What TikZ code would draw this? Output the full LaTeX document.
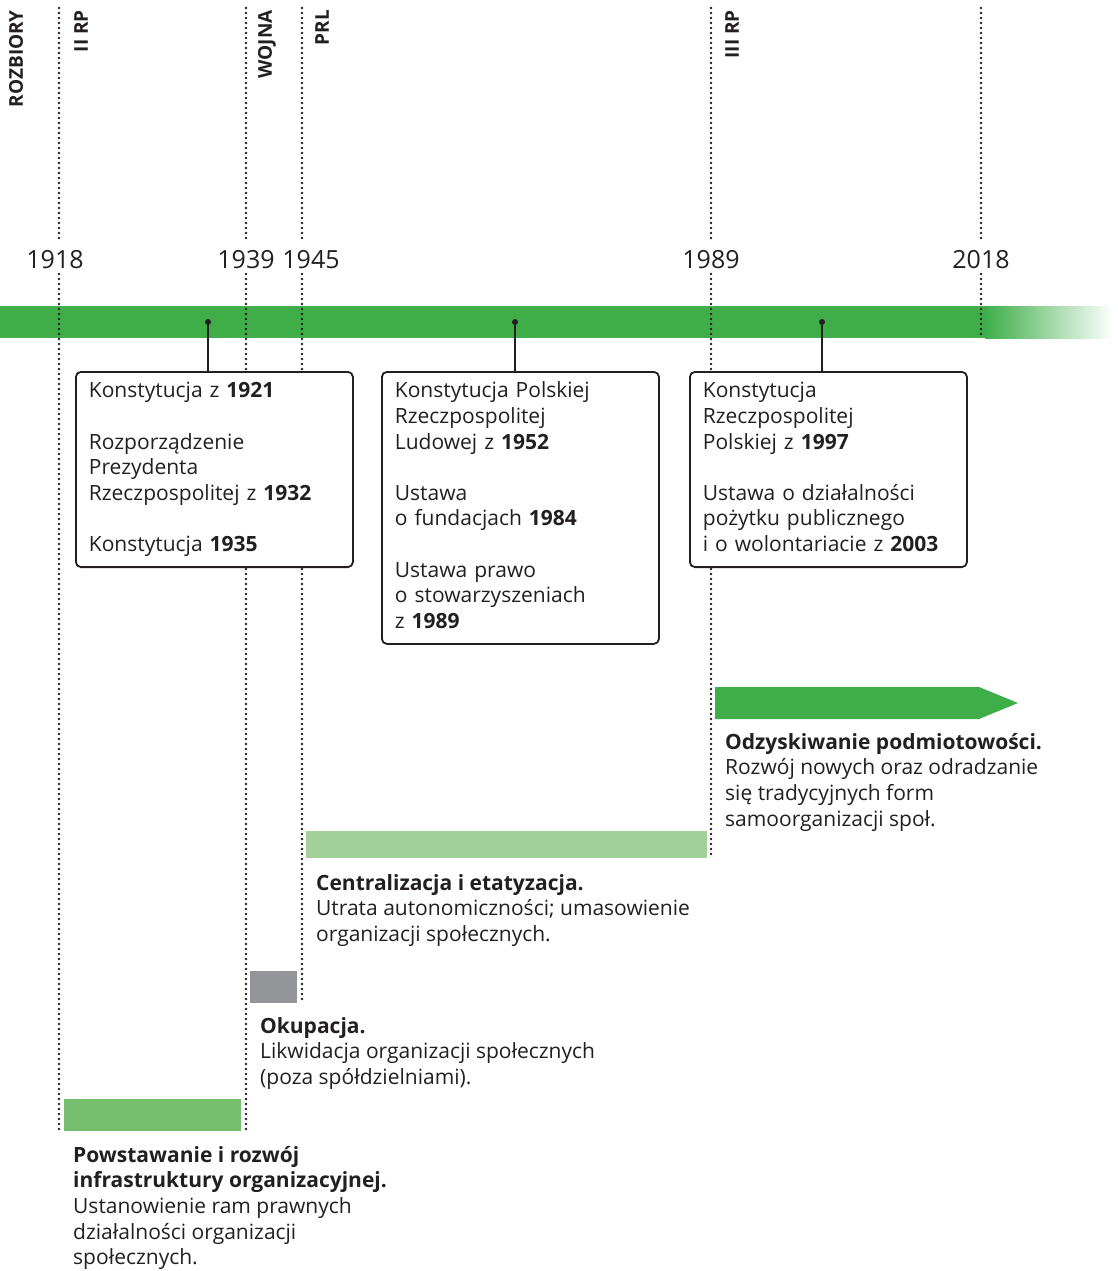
\documentclass[tikz,border=0pt]{standalone}
\usepackage{fontspec}
\setmainfont{Open Sans}
\usetikzlibrary{calc,positioning}
\definecolor{barGreen}{HTML}{3FAE49}
\definecolor{midGreen}{HTML}{74BE6D}
\definecolor{paleGreen}{HTML}{A3D09A}
\definecolor{warGrey}{HTML}{939598}
\definecolor{ink}{HTML}{231F20}

\begin{document}
\begin{tikzpicture}[x=1pt,y=-1pt,
		era/.style = {rotate=90,anchor=east,inner sep=0pt,text=ink,font=\fontsize{19}{19}\selectfont\bfseries},
		year/.style = {anchor=base,inner sep=0pt,text=ink,font=\fontsize{25}{25}\selectfont},
		rule/.style = {draw=ink,line width=2.6pt,line cap=round,dash pattern=on 0pt off 5pt},
		law box/.style = {draw=ink,fill=white,line width=1.8pt,rounded corners=5pt,anchor=north west,
			align=left,text width=251pt,inner xsep=13pt,inner ysep=8pt,text=ink,font=\fontsize{21}{25.6}\selectfont},
		stage/.style = {anchor=north west,align=left,inner sep=0pt,text=ink,font=\fontsize{21}{25.6}\selectfont},
		pin/.style = {circle,fill=ink,inner sep=0pt,minimum size=6pt}]
			\useasboundingbox (0,0) rectangle (1117,1271);
			\fill[barGreen] (0,306) rectangle (985,338);
			\shade[left color=barGreen,right color=white] (985,306) rectangle (1113,338);
			\node[era] at (16,10) (rozbiory) {ROZBIORY};
			\node[era] at (81,10) (iirp) {II RP};
			\node[era] at (267,10) (wojna) {WOJNA};
			\node[era] at (322,10) (prl) {PRL};
			\node[era] at (732,10) (iiirp) {III RP};
			\node[year] at (55,268) (y1918) {1918};
			\node[year] at (246,268) (y1939) {1939};
			\node[year] at (311,268) (y1945) {1945};
			\node[year] at (711,268) (y1989) {1989};
			\node[year] at (981,268) (y2018) {2018};
			\coordinate (a1) at (59,8);   \coordinate (b1) at (59,242);
			\coordinate (c1) at (59,274); \coordinate (d1) at (59,1131);
			\coordinate (a2) at (246,8);  \coordinate (b2) at (246,242);
			\coordinate (c2) at (246,274);\coordinate (d2) at (246,1131);
			\coordinate (a3) at (302,8);  \coordinate (b3) at (302,242);
			\coordinate (c3) at (302,274);\coordinate (d3) at (302,1003);
			\coordinate (a4) at (711,8);  \coordinate (b4) at (711,242);
			\coordinate (c4) at (711,274);\coordinate (d4) at (711,858);
			\coordinate (a5) at (981,8);  \coordinate (b5) at (981,242);
			\coordinate (c5) at (981,274);\coordinate (d5) at (981,338);
			\draw[rule] (a1) -- (b1) (c1) -- (d1);
			\draw[rule] (a2) -- (b2) (c2) -- (d2);
			\draw[rule] (a3) -- (b3) (c3) -- (d3);
			\draw[rule] (a4) -- (b4) (c4) -- (d4);
			\draw[rule] (a5) -- (b5) (c5) -- (d5);
			\node[law box] at (75,371) (box1) {\strut Konstytucja z \textbf{1921}\\[25.6pt]
				Rozporządzenie\\ Prezydenta\\ Rzeczpospolitej z \textbf{1932}\\[25.6pt]
				Konstytucja \textbf{1935}\strut};
			\node[law box] at (381,371) (box2) {\strut Konstytucja Polskiej\\ Rzeczpospolitej\\ Ludowej z \textbf{1952}\\[25.6pt]
				Ustawa\\ o~fundacjach \textbf{1984}\\[25.6pt]
				Ustawa prawo\\ o~stowarzyszeniach\\ z~\textbf{1989}\strut};
			\node[law box] at (689,371) (box3) {\strut Konstytucja\\ Rzeczpospolitej\\ Polskiej z \textbf{1997}\\[25.6pt]
				Ustawa o~działalności\\ pożytku publicznego\\ i~o~wolontariacie z \textbf{2003}\strut};
			\node[pin] at (208,322) (p1) {};
			\node[pin] at (515,322) (p2) {};
			\node[pin] at (822,322) (p3) {};
			\draw[ink,line width=1.4pt] (p1) -- (p1 |- box1.north);
			\draw[ink,line width=1.4pt] (p2) -- (p2 |- box2.north);
			\draw[ink,line width=1.4pt] (p3) -- (p3 |- box3.north);
			\fill[barGreen] (715,687) -- (979,687) -- (1018,703) -- (979,719) -- (715,719) -- cycle;
			\fill[paleGreen] (306,831) rectangle (707,858);
			\fill[warGrey] (250,971) rectangle (297,1003);
			\fill[midGreen] (64,1099) rectangle (241,1131);
			\node[stage] at (725,733) (odz) {\textbf{Odzyskiwanie podmiotowości.}\\ Rozwój nowych oraz odradzanie\\ się tradycyjnych form\\ samoorganizacji społ.};
			\node[stage] at (316,874) (cen) {\textbf{Centralizacja i etatyzacja.}\\ Utrata autonomiczności; umasowienie\\ organizacji społecznych.};
			\node[stage] at (260,1017) (oku) {\textbf{Okupacja.}\\ Likwidacja organizacji społecznych\\ (poza spółdzielniami).};
			\node[stage] at (73,1146) (pow) {\textbf{Powstawanie i rozwój}\\ \textbf{infrastruktury organizacyjnej.}\\ Ustanowienie ram prawnych\\ działalności organizacji\\ społecznych.};
		\end{tikzpicture}
\end{document}
